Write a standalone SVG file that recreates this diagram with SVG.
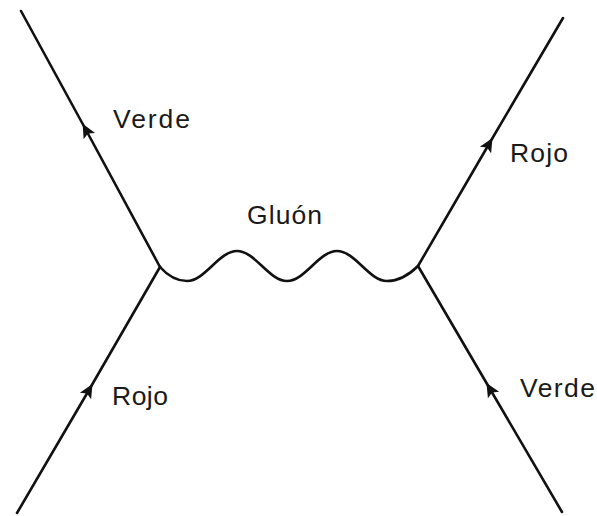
<svg xmlns="http://www.w3.org/2000/svg" width="597" height="516" viewBox="0 0 597 516">
  <style>
    .line { fill: none; stroke: #111; stroke-width: 2.6; stroke-linecap: round; stroke-linejoin: round; }
    .quark { marker-mid: url(#arrow); }
    .label { font-family: "Liberation Sans", Arial, sans-serif; font-size: 26.5px; fill: #1a1a1a; }
  </style>
  <defs>
    <marker id="arrow" viewBox="-15 -7 16 14" markerWidth="16" markerHeight="14" refX="-7" refY="0" orient="auto" markerUnits="userSpaceOnUse">
      <path d="M0,0 L-14,-6.5 L-11,0 L-14,6.5 Z" fill="#111"/>
    </marker>
  </defs>

  <!-- quark and gluon lines -->
  <g id="connectors">
    <!-- incoming red quark, bottom left -->
    <polyline class="line quark" points="17,513 89,390 160,267"/>
    <!-- outgoing green quark, top left -->
    <polyline class="line quark" points="160,267 86,130 21,11"/>
    <!-- incoming green quark, bottom right -->
    <polyline class="line quark" points="562,512 490,389 418,266"/>
    <!-- outgoing red quark, top right -->
    <polyline class="line quark" points="418,266 489,144 563,18"/>
    <!-- gluon exchange -->
    <path class="line" d="M160,267 C168,276 176,281 187,281 C205,281 219,251 237,251 C255,251 269,281 287,281 C305,281 319,251 337,251 C355,251 369,281 387,281 C399,281 410,274 418,266"/>
  </g>

  <g id="label-verde-top">
    <text class="label" x="113" y="128" textLength="77" lengthAdjust="spacing">Verde</text>
  </g>
  <g id="label-gluon">
    <text class="label" x="247" y="224" textLength="75" lengthAdjust="spacing">Gluón</text>
  </g>
  <g id="label-rojo-top">
    <text class="label" x="510" y="162" textLength="58" lengthAdjust="spacing">Rojo</text>
  </g>
  <g id="label-rojo-bottom">
    <text class="label" x="112" y="405" textLength="56" lengthAdjust="spacing">Rojo</text>
  </g>
  <g id="label-verde-bottom">
    <text class="label" x="520" y="397" textLength="75" lengthAdjust="spacing">Verde</text>
  </g>
</svg>
